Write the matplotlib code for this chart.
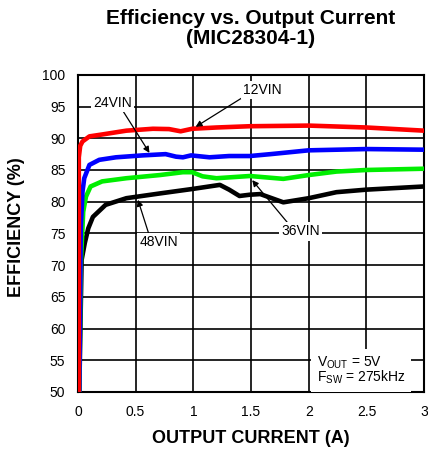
import matplotlib

matplotlib.use("Agg")
import matplotlib.pyplot as plt

plt.rcParams["font.family"] = ["Liberation Sans", "DejaVu Sans"]
plt.rcParams["mathtext.fontset"] = "custom"
plt.rcParams["mathtext.rm"] = "Liberation Sans"

# Efficiency curves (A, %)
x_12 = [0.008, 0.008, 0.02, 0.04, 0.10, 0.21, 0.42, 0.65, 0.79, 0.89, 0.99, 1.20, 1.49,
        2.0, 2.5, 3.0]
eff_12 = [50, 87.0, 88.8, 89.5, 90.3, 90.6, 91.2, 91.5, 91.45, 91.1, 91.5, 91.7, 91.9,
          92.0, 91.7, 91.2]

x_24 = [0.012, 0.025, 0.04, 0.055, 0.10, 0.185, 0.33, 0.56, 0.76, 0.85, 0.91, 0.98, 1.14,
        1.31, 1.49, 1.67, 2.0, 2.5, 3.0]
eff_24 = [50, 76.0, 81.6, 83.7, 85.8, 86.6, 87.0, 87.3, 87.5, 87.1, 87.0, 87.3, 87.0,
          87.2, 87.2, 87.5, 88.1, 88.3, 88.2]

x_36 = [0.012, 0.025, 0.046, 0.07, 0.11, 0.21, 0.42, 0.71, 0.91, 0.99, 1.08, 1.20, 1.49,
        1.78, 2.0, 2.24, 2.5, 3.0]
eff_36 = [50, 70.0, 78.4, 80.8, 82.4, 83.2, 83.7, 84.2, 84.65, 84.65, 84.0, 83.7, 84.05,
          83.6, 84.2, 84.75, 85.0, 85.2]

x_48 = [0.012, 0.032, 0.06, 0.09, 0.13, 0.24, 0.42, 0.71, 0.99, 1.23, 1.31, 1.40, 1.49,
        1.58, 1.78, 2.0, 2.24, 2.5, 3.0]
eff_48 = [50, 70.8, 73.5, 75.8, 77.6, 79.5, 80.55, 81.3, 82.0, 82.65, 81.9, 80.9, 81.1,
          81.2, 79.9, 80.55, 81.5, 81.9, 82.4]

x_ticks = [0, 0.5, 1, 1.5, 2, 2.5, 3]
x_tick_labels = ["0", "0.5", "1", "1.5", "2", "2.5", "3"]
y_ticks = [50, 55, 60, 65, 70, 75, 80, 85, 90, 95, 100]

fig = plt.figure(figsize=(4.28, 4.51), dpi=100)
ax = fig.add_axes([0.182, 0.131, 0.809, 0.703])

line_kw = dict(linewidth=3.3, solid_capstyle="butt", solid_joinstyle="round")
ax.plot(x_48, eff_48, color="black", zorder=3, **line_kw)
ax.plot(x_36, eff_36, color="#00ee00", zorder=3, **line_kw)
ax.plot(x_24, eff_24, color="#0000ff", zorder=3, **line_kw)
ax.plot(x_12, eff_12, color="#ff0000", zorder=4, **line_kw)

ax.set_xlim(0, 3)
ax.set_ylim(50, 100)
ax.set_xticks(x_ticks)
ax.set_xticklabels(x_tick_labels)
ax.set_yticks(y_ticks)
ax.tick_params(length=0, labelsize=10)
ax.tick_params(axis="x", pad=9.5)
ax.tick_params(axis="y", pad=9)
ax.grid(color="black", linewidth=1.2)
ax.set_axisbelow(True)
for s in ax.spines.values():
    s.set_linewidth(1.5)

box = dict(facecolor="white", edgecolor="none", pad=1.5)
arrow = dict(arrowstyle="-|>", color="black", lw=0.9, mutation_scale=9, shrinkA=0, shrinkB=0)

ax.annotate("12VIN", xy=(1.02, 91.8), xytext=(1.6, 97.6), fontsize=10,
            ha="center", va="center", bbox=box,
            arrowprops=dict(arrow, relpos=(0.0, 0.0)), zorder=5)
ax.annotate("24VIN", xy=(0.62, 87.7), xytext=(0.30, 95.6), fontsize=10,
            ha="center", va="center", bbox=box,
            arrowprops=dict(arrow, relpos=(0.75, 0.0)), zorder=5)
ax.annotate("36VIN", xy=(1.51, 83.4), xytext=(1.93, 75.3), fontsize=10,
            ha="center", va="center", bbox=box,
            arrowprops=dict(arrow, relpos=(0.2, 1.0)), zorder=5)
ax.annotate("48VIN", xy=(0.52, 80.3), xytext=(0.70, 73.7), fontsize=10,
            ha="center", va="center", bbox=box,
            arrowprops=dict(arrow, relpos=(0.25, 1.0)), zorder=5)

ax.text(2.07, 53.4, "V$_{\\mathrm{OUT}}$ = 5V\nF$_{\\mathrm{SW}}$ = 275kHz", fontsize=10,
        ha="left", va="center", linespacing=0.85,
        bbox=dict(facecolor="white", edgecolor="none", pad=4), zorder=5)

ax.set_xlabel("OUTPUT CURRENT (A)", fontsize=13, fontweight="bold")
ax.set_ylabel("EFFICIENCY (%)", fontsize=13, fontweight="bold")
ax.xaxis.set_label_coords(0.5, -0.147)
ax.xaxis.label.set_va("center")
ax.yaxis.set_label_coords(-0.176, 0.52)
ax.yaxis.label.set_va("center")

fig.text(0.586, 1 - 9 / 451, "Efficiency vs. Output Current\n(MIC28304-1)", fontsize=15,
         fontweight="bold", ha="center", va="top", linespacing=1.05)

fig.savefig("out.png", dpi=100)
